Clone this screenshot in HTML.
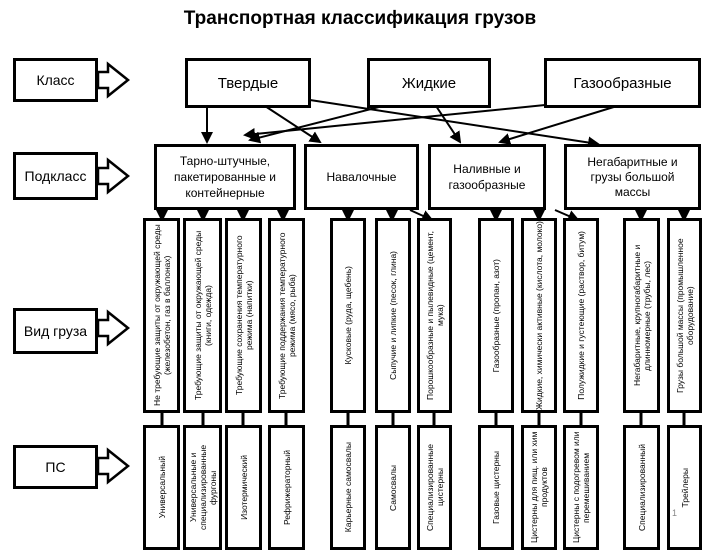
<!DOCTYPE html><html><head><meta charset="utf-8"><style>
body{margin:0;width:720px;height:540px;overflow:hidden;background:#fff;font-family:"Liberation Sans",sans-serif;position:relative}
.b{position:absolute;border:3px solid #000;box-sizing:border-box;display:flex;align-items:center;justify-content:center;text-align:center;background:#fff}
.v{font-size:8.5px;line-height:10px}
.v span{writing-mode:vertical-rl;transform:rotate(180deg)}
svg{position:absolute;left:0;top:0}
</style></head><body>
<div style="position:absolute;left:0;width:720px;top:8px;text-align:center;font-size:19px;font-weight:bold">Транспортная классификация грузов</div>
<svg width="720" height="540">
<defs><marker id="a" markerWidth="6" markerHeight="6" refX="5" refY="3" orient="auto"><path d="M0,0L6,3L0,6z"/></marker></defs>
<g stroke="#000" stroke-width="2.5" fill="none">
<path d="M98,72h10v-8l20,16l-20,16v-8h-10z" fill="#fff"/>
<path d="M98,168h10v-8l20,16l-20,16v-8h-10z" fill="#fff"/>
<path d="M98,320h10v-8l20,16l-20,16v-8h-10z" fill="#fff"/>
<path d="M98,458h10v-8l20,16l-20,16v-8h-10z" fill="#fff"/>
</g>
<g stroke="#000" stroke-width="2" marker-end="url(#a)">
<line x1="207" y1="106" x2="207" y2="142"/>
<line x1="265" y1="106" x2="320" y2="142"/>
<line x1="310" y1="100" x2="598" y2="144"/>
<line x1="383" y1="106" x2="250" y2="140"/>
<line x1="555" y1="104" x2="245" y2="135"/>
<line x1="436" y1="106" x2="460" y2="142"/>
<line x1="617" y1="106" x2="500" y2="142"/>
<line x1="162" y1="210" x2="162" y2="220"/><line x1="203" y1="210" x2="203" y2="220"/><line x1="243" y1="210" x2="243" y2="220"/><line x1="283" y1="210" x2="283" y2="220"/>
<line x1="348" y1="210" x2="348" y2="220"/><line x1="392" y1="210" x2="392" y2="220"/><line x1="410" y1="210" x2="432" y2="220"/>
<line x1="496" y1="210" x2="496" y2="220"/><line x1="539" y1="210" x2="539" y2="220"/><line x1="555" y1="210" x2="578" y2="220"/>
<line x1="641" y1="210" x2="641" y2="220"/><line x1="684" y1="210" x2="684" y2="220"/>
</g>
<g stroke="#000" stroke-width="3">
<line x1="162" y1="412" x2="162" y2="426"/><line x1="203" y1="412" x2="203" y2="426"/><line x1="243" y1="412" x2="243" y2="426"/><line x1="286" y1="412" x2="286" y2="426"/>
<line x1="348" y1="412" x2="348" y2="426"/><line x1="393" y1="412" x2="393" y2="426"/><line x1="434" y1="412" x2="434" y2="426"/>
<line x1="496" y1="412" x2="496" y2="426"/><line x1="539" y1="412" x2="539" y2="426"/><line x1="581" y1="412" x2="581" y2="426"/>
<line x1="641" y1="412" x2="641" y2="426"/><line x1="684" y1="412" x2="684" y2="426"/>
</g>
</svg>
<div class="b" style="left:13px;top:58px;width:85px;height:44px;font-size:14px">Класс</div>
<div class="b" style="left:185px;top:58px;width:126px;height:50px;font-size:15px">Твердые</div>
<div class="b" style="left:367px;top:58px;width:124px;height:50px;font-size:15px">Жидкие</div>
<div class="b" style="left:544px;top:58px;width:157px;height:50px;font-size:15px">Газообразные</div>
<div class="b" style="left:13px;top:152px;width:85px;height:48px;font-size:14px">Подкласс</div>
<div class="b" style="left:154px;top:144px;width:142px;height:66px;font-size:12px;line-height:16px">Тарно-штучные, пакетированные и контейнерные</div>
<div class="b" style="left:304px;top:144px;width:115px;height:66px;font-size:12px">Навалочные</div>
<div class="b" style="left:428px;top:144px;width:118px;height:66px;font-size:12px;line-height:16px">Наливные и газообразные</div>
<div class="b" style="left:564px;top:144px;width:137px;height:66px;font-size:12px;line-height:15px;padding:0 14px">Негабаритные и грузы большой массы</div>
<div class="b" style="left:13px;top:308px;width:85px;height:46px;font-size:14px">Вид груза</div>
<div class="b" style="left:13px;top:445px;width:85px;height:44px;font-size:14px">ПС</div>

<div class="b v" style="left:143px;top:218px;width:37px;height:195px"><span>Не требующие защиты от окружающей среды (железобетон, газ в баллонах)</span></div>
<div class="b v" style="left:183px;top:218px;width:39px;height:195px"><span>Требующие защиты от окружающей среды (книги, одежда)</span></div>
<div class="b v" style="left:225px;top:218px;width:37px;height:195px"><span>Требующие сохранения температурного режима (напитки)</span></div>
<div class="b v" style="left:268px;top:218px;width:37px;height:195px"><span>Требующие поддержания температурного режима (мясо, рыба)</span></div>
<div class="b v" style="left:330px;top:218px;width:36px;height:195px"><span>Кусковые (руда, щебень)</span></div>
<div class="b v" style="left:375px;top:218px;width:36px;height:195px"><span>Сыпучие и липкие (песок, глина)</span></div>
<div class="b v" style="left:417px;top:218px;width:35px;height:195px"><span>Порошкообразные и пылевидные (цемент, мука)</span></div>
<div class="b v" style="left:478px;top:218px;width:36px;height:195px"><span>Газообразные (пропан, азот)</span></div>
<div class="b v" style="left:521px;top:218px;width:36px;height:195px"><span>Жидкие, химически активные (кислота, молоко)</span></div>
<div class="b v" style="left:563px;top:218px;width:36px;height:195px"><span>Полужидкие и густеющие (раствор, битум)</span></div>
<div class="b v" style="left:623px;top:218px;width:37px;height:195px"><span>Негабаритные, крупногабаритные и длинномерные (трубы, лес)</span></div>
<div class="b v" style="left:667px;top:218px;width:35px;height:195px"><span>Грузы большой массы (промышленное оборудование)</span></div>

<div class="b v" style="left:143px;top:425px;width:37px;height:125px"><span>Универсальный</span></div>
<div class="b v" style="left:183px;top:425px;width:39px;height:125px"><span>Универсальные и специализированные фургоны</span></div>
<div class="b v" style="left:225px;top:425px;width:37px;height:125px"><span>Изотермический</span></div>
<div class="b v" style="left:268px;top:425px;width:37px;height:125px"><span>Рефрижераторный</span></div>
<div class="b v" style="left:330px;top:425px;width:36px;height:125px"><span>Карьерные самосвалы</span></div>
<div class="b v" style="left:375px;top:425px;width:36px;height:125px"><span>Самосвалы</span></div>
<div class="b v" style="left:417px;top:425px;width:35px;height:125px"><span>Специализированные цистерны</span></div>
<div class="b v" style="left:478px;top:425px;width:36px;height:125px"><span>Газовые цистерны</span></div>
<div class="b v" style="left:521px;top:425px;width:36px;height:125px"><span>Цистерны для пищ. или хим продуктов</span></div>
<div class="b v" style="left:563px;top:425px;width:36px;height:125px"><span>Цистерны с подогревом или перемешиванием</span></div>
<div class="b v" style="left:623px;top:425px;width:37px;height:125px"><span>Специализированный</span></div>
<div class="b v" style="left:667px;top:425px;width:35px;height:125px"><span>Трейлеры</span></div>
<div style="position:absolute;left:672px;top:508px;font-size:9px;color:#888">1</div>
</body></html>
